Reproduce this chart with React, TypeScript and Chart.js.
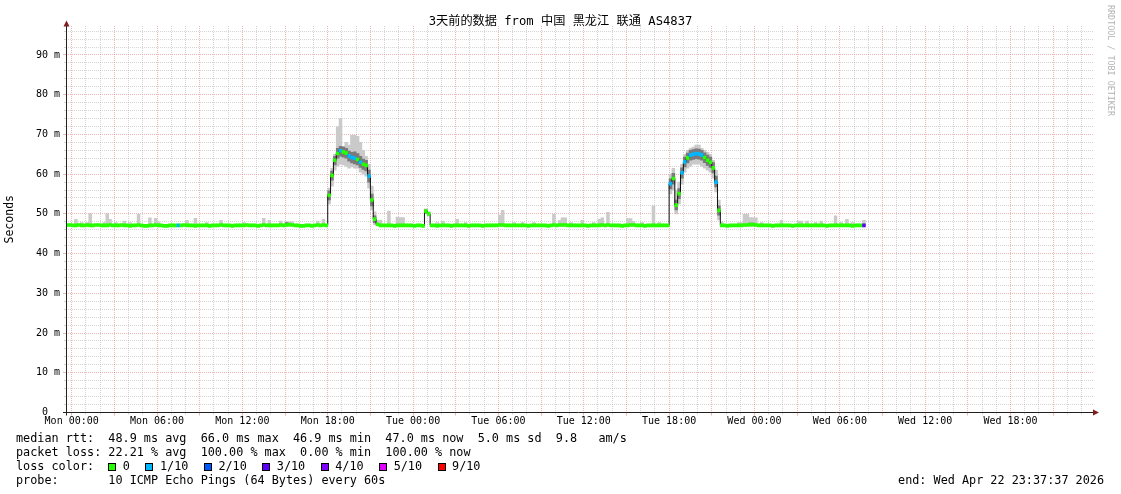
import React, { useEffect, useRef } from 'react';
import { Chart, registerables } from 'chart.js';

Chart.register(...registerables);

// ---- time axis (hours relative to Mon 00:00) ----
const START_HOUR = -0.4; // Sun 23:36, first 12-minute slot
const END_HOUR = 71.8; // Wed 23:48
const STEP_HOURS = 0.2; // 12-minute consolidated slots
const DAY_NAMES = ['Mon', 'Tue', 'Wed'];
const X_LABEL_HOURS = [0, 6, 12, 18, 24, 30, 36, 42, 48, 54, 60, 66];
const Y_TICKS = [0, 10, 20, 30, 40, 50, 60, 70, 80, 90];
const Y_MAX = 97.3;

const TITLE = '3天前的数据 from 中国 黑龙江 联通 AS4837';
const Y_TITLE = 'Seconds';
const WATERMARK = 'RRDTOOL / TOBI OETIKER';

const LOSS_LABELS = ['0', '1/10', '2/10', '3/10', '4/10', '5/10', '9/10'];
const LOSS_COLORS = ['#26ff00', '#00b8ff', '#0059ff', '#5e00ff', '#7e00ff', '#dd00ff', '#ff0000'];

const STAT_RTT = 'median rtt:  48.9 ms avg  66.0 ms max  46.9 ms min  47.0 ms now  5.0 ms sd  9.8   am/s';
const STAT_LOSS = 'packet loss: 22.21 % avg  100.00 % max  0.00 % min  100.00 % now';
const STAT_LOSS_COLOR = 'loss color:  ';
const STAT_PROBE = 'probe:       10 ICMP Echo Pings (64 Bytes) every 60s';
const STAT_END = 'end: Wed Apr 22 23:37:37 2026';

// median RTT (ms) per 12-minute slot, slot 0 = Sun 23:36
const median = [
  47.2, 47.2, 47.1, 47.1, 47.2, 47.1, 47.1, 47.2, 47.1, 47.1, 47.2, 47.2, 47.1, 47.1, 47.1, 47.2, 47.1, 47.1, 47.1, 47.2,
  47.1, 47.1, 47.0, 47.1, 47.1, 47.2, 47.1, 47.0, 47.0, 47.1, 47.1, 47.2, 47.1, 47.1, 47.0, 47.0, 47.1, 47.1, 47.1, 47.1,
  47.1, 47.2, 47.1, 47.1, 47.1, 47.0, 47.1, 47.1, 47.1, 47.1, 47.0, 47.1, 47.1, 47.1, 47.2, 47.1, 47.1, 47.1, 47.0, 47.1,
  47.1, 47.1, 47.1, 47.2, 47.1, 47.1, 47.1, 47.0, 47.1, 47.2, 47.1, 47.1, 47.1, 47.1, 47.1, 47.2, 47.1, 47.2, 47.3, 47.2,
  47.1, 47.1, 47.0, 47.0, 47.1, 47.1, 47.0, 47.1, 47.2, 47.1, 47.2, 47.1, 54.7, 59.7, 63.5, 65.2, 65.9, 65.6, 65.3, 64.6,
  64.2, 64.0, 63.7, 63.0, 62.5, 62.2, 59.5, 53.5, 48.7, 47.4, 47.1, 47.1, 47.1, 47.1, 47.1, 47.0, 47.1, 47.1, 47.1, 47.1,
  47.1, 47.1, 47.0, 47.1, 47.1, 47.0, 50.7, 50.0, 47.1, 47.1, 47.0, 47.1, 47.1, 47.1, 47.1, 47.0, 47.1, 47.1, 47.1, 47.1,
  47.1, 47.0, 47.1, 47.1, 47.1, 47.1, 47.0, 47.1, 47.1, 47.1, 47.1, 47.1, 47.2, 47.2, 47.1, 47.1, 47.1, 47.1, 47.1, 47.1,
  47.1, 47.1, 47.0, 47.1, 47.1, 47.1, 47.1, 47.1, 47.1, 47.0, 47.1, 47.2, 47.1, 47.2, 47.2, 47.2, 47.1, 47.1, 47.1, 47.1,
  47.1, 47.1, 47.1, 47.0, 47.1, 47.1, 47.1, 47.1, 47.2, 47.1, 47.2, 47.1, 47.1, 47.1, 47.1, 47.0, 47.1, 47.1, 47.2, 47.2,
  47.1, 47.1, 47.1, 47.0, 47.1, 47.1, 47.1, 47.1, 47.1, 47.1, 47.1, 47.1, 57.6, 58.9, 52.2, 55.1, 60.4, 63.1, 64.1, 64.8,
  65.0, 65.2, 65.1, 64.8, 64.2, 63.5, 63.0, 61.6, 58.0, 50.9, 47.1, 47.1, 47.0, 47.1, 47.1, 47.1, 47.1, 47.1, 47.2, 47.2,
  47.3, 47.3, 47.2, 47.1, 47.1, 47.1, 47.1, 47.1, 47.0, 47.1, 47.1, 47.1, 47.1, 47.1, 47.1, 47.0, 47.1, 47.1, 47.1, 47.1,
  47.1, 47.1, 47.1, 47.1, 47.1, 47.1, 47.1, 47.0, 47.1, 47.1, 47.1, 47.1, 47.1, 47.1, 47.1, 47.1, 47.0, 47.1, 47.1, 47.1,
  47.1,
];

// slots with packet loss (index into LOSS_COLORS)
const lossSlots = [39, 96, 99, 100, 101, 103, 106, 212, 216, 217, 219, 220, 221, 222, 223, 228, 280];
const lossLevels = [1, 1, 1, 1, 1, 1, 1, 1, 1, 1, 1, 1, 1, 1, 1, 1, 3];

// light smoke: spread of all pings
const smokeSlots = [
  3, 5, 7, 8, 13, 14, 15, 17, 20, 22, 25, 29, 31, 32, 42, 45, 49, 54, 62, 69, 71, 75, 77, 78, 79, 88, 90,
  92, 93, 94, 95, 96, 97, 98, 99, 100, 101, 102, 103, 104, 105, 106, 107, 108, 109,
  110, 113, 116, 117, 118, 126, 127, 130, 132, 137, 140, 152, 153, 157, 160, 164, 171, 173, 174, 175, 177, 181, 185, 187, 188, 190, 197, 198, 199, 202, 206, 208,
  212, 213, 214, 215, 216, 217, 218, 219, 220, 221, 222, 223, 224, 225, 226, 227, 228, 229,
  230, 236, 237, 238, 239, 240, 241, 242, 244, 251, 257, 258, 260, 263, 265, 270, 272, 274, 276, 280,
];
const smokeLow = [
  47.0, 47.0, 47.0, 47.0, 47.0, 47.0, 47.0, 47.0, 47.0, 47.0, 47.0, 47.0, 47.0, 47.0, 47.0, 47.0, 47.0, 47.0, 47.0, 47.0, 47.0, 47.0, 47.0, 47.0, 47.0, 47.0, 47.0,
  52.5, 57.0, 61.0, 62.0, 62.5, 62.3, 62.0, 61.5, 61.8, 61.5, 61.5, 60.5, 60.0, 59.5, 56.5, 51.0, 47.3, 47.0,
  47.0, 47.0, 47.0, 47.0, 47.0, 50.0, 49.5, 47.0, 47.0, 47.0, 47.0, 47.0, 47.0, 47.0, 47.0, 47.0, 47.0, 47.0, 47.0, 47.0, 47.0, 47.0, 47.0, 47.0, 47.0, 47.0, 47.0, 47.0, 47.0, 47.0, 47.0, 47.0,
  55.0, 56.0, 50.0, 52.5, 57.5, 60.5, 61.5, 62.0, 62.5, 62.5, 62.5, 62.0, 61.5, 61.0, 60.5, 59.0, 55.5, 48.5,
  47.0, 47.0, 47.0, 47.0, 47.0, 47.0, 47.0, 47.0, 47.0, 47.0, 47.0, 47.0, 47.0, 47.0, 47.0, 47.0, 47.0, 47.0, 47.0, 47.0,
];
const smokeHigh = [
  48.6, 47.8, 47.8, 50.1, 47.8, 50.1, 48.6, 47.8, 48.2, 47.8, 49.9, 49.0, 48.9, 48.0, 48.4, 48.9, 47.8, 48.4, 47.8, 48.9, 48.4, 48.2, 48.0, 48.0, 48.0, 48.2, 48.6,
  56.5, 61.5, 65.0, 71.9, 74.0, 67.0, 68.0, 67.3, 69.8, 69.8, 69.5, 68.0, 66.0, 64.5, 62.5, 57.0, 50.5, 48.4,
  48.4, 50.7, 49.2, 49.1, 49.1, 51.3, 50.6, 47.8, 48.2, 48.6, 47.8, 49.7, 50.9, 47.8, 47.8, 47.8, 49.9, 48.4, 49.0, 49.0, 47.8, 48.4, 47.8, 48.6, 49.0, 50.4, 48.8, 48.8, 48.1, 47.8, 52.0, 47.8,
  60.0, 61.5, 56.0, 58.0, 62.5, 65.0, 66.0, 66.5, 66.8, 67.3, 67.3, 66.5, 66.0, 65.5, 65.0, 63.5, 61.0, 53.5,
  48.0, 47.8, 47.8, 49.9, 49.9, 49.1, 49.1, 49.0, 47.8, 48.4, 48.2, 48.2, 48.2, 47.8, 48.2, 49.5, 47.8, 48.6, 47.8, 48.4,
];

// dark smoke: spread of the middle pings
const darkSlots = [
  77,
  92, 93, 94, 95, 96, 97, 98, 99, 100, 101, 102, 103, 104, 105, 106, 107, 108,
  126,
  212, 213, 214, 215, 216, 217, 218, 219, 220, 221, 222, 223, 224, 225, 226, 227, 228, 229,
  240, 241,
];
const darkLow = [
  47.3,
  53.5, 58.5, 62.3, 64.0, 64.5, 64.3, 64.0, 63.3, 62.8, 62.6, 62.3, 61.7, 61.2, 60.8, 58.0, 52.0, 47.8,
  50.2,
  56.3, 57.5, 51.0, 53.8, 59.0, 61.8, 62.8, 63.5, 63.7, 63.9, 63.8, 63.5, 62.9, 62.2, 61.7, 60.3, 56.8, 49.7,
  47.3, 47.3,
];
const darkHigh = [
  47.8,
  55.8, 60.8, 64.5, 66.5, 67.0, 66.8, 66.5, 65.8, 65.5, 65.6, 65.2, 64.5, 63.8, 63.5, 61.0, 55.0, 49.5,
  51.0,
  58.8, 60.2, 53.5, 56.4, 61.6, 64.3, 65.3, 66.0, 66.2, 66.4, 66.3, 66.0, 65.4, 64.8, 64.3, 62.9, 59.5, 52.0,
  47.7, 47.7,
];

// ---- styling ----
const MONO = '"DejaVu Sans Mono", "Noto Sans CJK SC", monospace';
const BAND_HALF = 0.38; // half thickness of the median marker (ms)
const GRID_MINOR = 'rgba(150,150,150,0.4)';
const GRID_MAJOR = 'rgba(222,79,79,0.42)';
const AXIS_COLOR = '#202020';
const ARROW_COLOR = '#7f1f1f';

const slotCenter = (i: number) => START_HOUR + STEP_HOURS * (i + 0.5);

function hourLabel(v: number) {
  const day = DAY_NAMES[Math.floor(v / 24)] || '';
  const hh = String(v % 24).padStart(2, '0');
  return `${day} ${hh}:00`;
}

const rrdPlugin = {
  id: 'rrdGrid',
  beforeDatasetsDraw(chart: any) {
    const { ctx, chartArea, scales } = chart;
    const { left, right, top, bottom } = chartArea;
    const x = scales.x;
    const y = scales.y;
    ctx.save();
    ctx.lineWidth = 1;
    // horizontal grid
    for (let v = 2; v < Y_MAX; v += 2) {
      const py = Math.floor(y.getPixelForValue(v)) + 0.5;
      const major = v % 10 === 0;
      ctx.strokeStyle = major ? GRID_MAJOR : GRID_MINOR;
      ctx.setLineDash([1, 1]);
      ctx.beginPath();
      ctx.moveTo(left, py);
      ctx.lineTo(right, py);
      ctx.stroke();
      ctx.setLineDash([]);
      ctx.beginPath();
      ctx.moveTo(left - (major ? 3 : 2), py);
      ctx.lineTo(left, py);
      ctx.stroke();
    }
    // vertical grid
    for (let h = 0; h <= Math.floor(END_HOUR); h += 1) {
      const px = Math.floor(x.getPixelForValue(h)) + 0.5;
      if (px > right) break;
      const major = h % 3 === 0;
      ctx.strokeStyle = major ? GRID_MAJOR : GRID_MINOR;
      ctx.setLineDash([1, 1]);
      ctx.beginPath();
      ctx.moveTo(px, top);
      ctx.lineTo(px, bottom);
      ctx.stroke();
      ctx.setLineDash([]);
      ctx.beginPath();
      ctx.moveTo(px, bottom);
      ctx.lineTo(px, bottom + (major ? 3 : 2));
      ctx.stroke();
    }
    ctx.restore();
  },
  afterDatasetsDraw(chart: any) {
    const { ctx, chartArea } = chart;
    const { left, right, top, bottom } = chartArea;
    const ax = Math.floor(left) + 0.5;
    const ay = Math.floor(bottom) + 0.5;
    ctx.save();
    ctx.setLineDash([]);
    ctx.lineWidth = 1;
    ctx.strokeStyle = AXIS_COLOR;
    ctx.beginPath();
    ctx.moveTo(left - 3, ay);
    ctx.lineTo(right + 1, ay);
    ctx.stroke();
    ctx.beginPath();
    ctx.moveTo(ax, bottom + 3);
    ctx.lineTo(ax, top);
    ctx.stroke();
    ctx.fillStyle = ARROW_COLOR;
    ctx.beginPath();
    ctx.moveTo(ax - 3, top + 0.5);
    ctx.lineTo(ax + 3, top + 0.5);
    ctx.lineTo(ax, top - 5.5);
    ctx.closePath();
    ctx.fill();
    ctx.beginPath();
    ctx.moveTo(right, ay - 3);
    ctx.lineTo(right, ay + 3);
    ctx.lineTo(right + 6, ay);
    ctx.closePath();
    ctx.fill();
    ctx.restore();
  },
};

export default function App() {
  const canvasRef = useRef<HTMLCanvasElement>(null);

  useEffect(() => {
    document.body.style.margin = '0';
    const canvas = canvasRef.current;
    if (!canvas) return;

    const lossBySlot: Record<number, number> = {};
    lossSlots.forEach((s, k) => {
      lossBySlot[s] = lossLevels[k];
    });

    const chart = new Chart(canvas, {
      type: 'bar',
      data: {
        datasets: [
          {
            type: 'bar',
            label: 'median',
            data: median.map((m, i) => ({ x: slotCenter(i), y: [m - BAND_HALF, m + BAND_HALF] })) as any,
            backgroundColor: median.map((_, i) => LOSS_COLORS[lossBySlot[i] || 0]),
            borderWidth: 0,
            barPercentage: 1,
            categoryPercentage: 1,
            grouped: false,
            order: 0,
          },
          {
            type: 'line',
            label: 'median line',
            data: median.map((m, i) => ({ x: slotCenter(i), y: m })) as any,
            borderColor: '#111111',
            borderWidth: 1,
            pointRadius: 0,
            stepped: 'middle',
            fill: false,
            order: 1,
          },
          {
            type: 'bar',
            label: 'dark smoke',
            data: darkSlots.map((s, k) => ({ x: slotCenter(s), y: [darkLow[k], darkHigh[k]] })) as any,
            backgroundColor: '#7a7a7a',
            borderWidth: 0,
            barPercentage: 1,
            categoryPercentage: 1,
            grouped: false,
            order: 2,
          },
          {
            type: 'bar',
            label: 'smoke',
            data: smokeSlots.map((s, k) => ({ x: slotCenter(s), y: [smokeLow[k], smokeHigh[k]] })) as any,
            backgroundColor: '#cacaca',
            borderWidth: 0,
            barPercentage: 1,
            categoryPercentage: 1,
            grouped: false,
            order: 3,
          },
        ],
      },
      options: {
        animation: false,
        responsive: false,
        devicePixelRatio: 1,
        layout: { padding: { left: 0, right: 28, top: 26, bottom: 0 } },
        plugins: { legend: { display: false }, tooltip: { enabled: false }, title: { display: false } },
        events: [],
        scales: {
          x: {
            type: 'linear',
            min: START_HOUR,
            max: END_HOUR,
            offset: false,
            grid: { display: false, drawTicks: false },
            border: { display: false },
            ticks: {
              autoSkip: false,
              maxRotation: 0,
              minRotation: 0,
              padding: 3,
              color: '#000',
              font: { family: MONO, size: 10 },
              callback: (v: any) => hourLabel(Number(v)),
            },
            afterBuildTicks: (s: any) => {
              s.ticks = X_LABEL_HOURS.map((v) => ({ value: v }));
            },
            afterFit: (s: any) => {
              s.height = 81.5;
            },
          },
          y: {
            type: 'linear',
            min: 0,
            max: Y_MAX,
            grid: { display: false, drawTicks: false },
            border: { display: false },
            ticks: {
              padding: 6,
              color: '#000',
              font: { family: MONO, size: 10 },
              callback: (v: any) => (Number(v) === 0 ? '0  ' : `${v} m`),
            },
            afterBuildTicks: (s: any) => {
              s.ticks = Y_TICKS.map((v) => ({ value: v }));
            },
            afterFit: (s: any) => {
              s.width = 66;
            },
            title: {
              display: true,
              text: Y_TITLE,
              color: '#000',
              font: { family: MONO, size: 11.5 },
              padding: { top: 3, bottom: 0 },
            },
          },
        },
      } as any,
      plugins: [rrdPlugin],
    });

    return () => chart.destroy();
  }, []);

  const statFont = `11.8px ${MONO}`;
  const rowStyle = (top: number): React.CSSProperties => ({
    position: 'absolute',
    left: 16,
    top,
    font: statFont,
    lineHeight: '14px',
    height: 14,
    whiteSpace: 'pre',
    color: '#000',
  });

  return (
    <div style={{ position: 'relative', width: 1121, height: 494, background: '#fff', overflow: 'hidden' }}>
      <style>{'body{margin:0;background:#fff;}'}</style>
      <canvas
        ref={canvasRef}
        width={1121}
        height={494}
        style={{ position: 'absolute', left: 0, top: 0, width: 1121, height: 494 }}
      />
      <div
        style={{
          position: 'absolute',
          left: 0,
          top: 14,
          width: 1121,
          textAlign: 'center',
          font: `12.2px ${MONO}`,
          lineHeight: '15px',
          whiteSpace: 'pre',
          color: '#000',
        }}
      >
        {TITLE}
      </div>
      <div
        style={{
          position: 'absolute',
          left: 1106,
          top: 5,
          writingMode: 'vertical-rl',
          font: `8.4px ${MONO}`,
          lineHeight: '9px',
          whiteSpace: 'pre',
          color: '#b4b4b4',
        }}
      >
        {WATERMARK}
      </div>
      <div style={rowStyle(431)}>{STAT_RTT}</div>
      <div style={rowStyle(445)}>{STAT_LOSS}</div>
      <div style={{ ...rowStyle(459), display: 'flex', alignItems: 'center' }}>
        <span>{STAT_LOSS_COLOR}</span>
        {LOSS_LABELS.map((lab, k) => (
          <span key={lab} style={{ display: 'flex', alignItems: 'center', marginRight: 15.5 }}>
            <span
              style={{
                display: 'inline-block',
                width: 8,
                height: 8,
                boxSizing: 'border-box',
                border: '1px solid #000',
                background: LOSS_COLORS[k],
                marginRight: 6.5,
                marginTop: 1,
              }}
            />
            <span>{lab}</span>
          </span>
        ))}
      </div>
      <div style={rowStyle(473)}>{STAT_PROBE}</div>
      <div
        style={{
          position: 'absolute',
          right: 17,
          top: 473,
          font: statFont,
          lineHeight: '14px',
          whiteSpace: 'pre',
          color: '#000',
        }}
      >
        {STAT_END}
      </div>
    </div>
  );
}
